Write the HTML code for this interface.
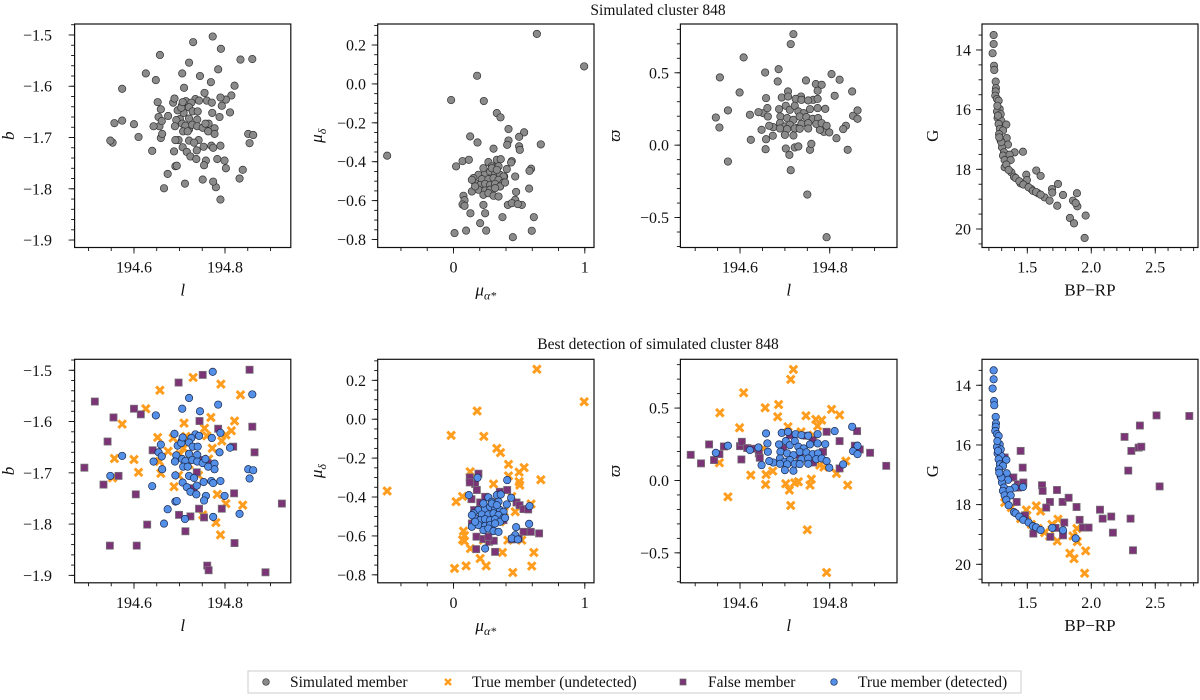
<!DOCTYPE html>
<html><head><meta charset="utf-8"><style>
html,body{margin:0;padding:0;background:#fff}
svg text{font-family:"Liberation Serif",serif;fill:#111}
</style></head><body>
<svg id="fig" width="1200" height="695" viewBox="0 0 1200 695" xmlns="http://www.w3.org/2000/svg">
<text x="658" y="15" font-size="15.5" text-anchor="middle">Simulated cluster 848</text>
<text x="658" y="349" font-size="15.5" text-anchor="middle">Best detection of simulated cluster 848</text>
<g>
<rect x="248" y="671" width="773" height="22" fill="#fff" stroke="#ccc" stroke-width="1"/>
<g><circle cx="266" cy="682" r="3.3" fill="#8a8a8a" stroke="#333" stroke-width="0.7"/><text x="290" y="687" font-size="15.5">Simulated member</text></g>
<g><path d="M445 679l6 6M451 679l-6 6" stroke="#ff9d1f" stroke-width="2.4"/><text x="472" y="687" font-size="15.5">True member (undetected)</text></g>
<g><rect x="680" y="679" width="6" height="6" fill="#7b3577" stroke="#666" stroke-width="0.7"/><text x="708" y="687" font-size="15.5">False member</text></g>
<g><circle cx="834" cy="682" r="3.3" fill="#5590e8" stroke="#1a2a50" stroke-width="0.7"/><text x="858" y="687" font-size="15.5">True member (detected)</text></g>
</g>
</svg>
<script>
// ---- Panel A: l vs b ----
const lUndet=[194.730,194.791,194.657,194.834,194.626,194.574,194.769,194.710,194.821,194.755,194.814,194.802,194.652,194.686,194.714,194.793,194.772,194.675,194.557,194.600,194.610,194.659,194.656,194.701,194.709,194.553,194.742,194.688,194.783,194.802,194.839,194.751,194.780,194.790,194.764,194.721,194.698,194.760];
const bUndet=[-1.514,-1.527,-1.539,-1.548,-1.575,-1.605,-1.592,-1.603,-1.599,-1.613,-1.618,-1.626,-1.631,-1.632,-1.629,-1.638,-1.652,-1.658,-1.672,-1.674,-1.699,-1.701,-1.678,-1.664,-1.652,-1.710,-1.705,-1.727,-1.742,-1.760,-1.763,-1.782,-1.797,-1.821,-1.673,-1.684,-1.705,-1.628];
const lFalse=[194.854,194.751,194.698,194.514,194.600,194.615,194.555,194.860,194.744,194.785,194.542,194.818,194.865,194.641,194.491,194.738,194.566,194.533,194.731,194.604,194.820,194.925,194.743,194.793,194.699,194.724,194.754,194.629,194.713,194.547,194.606,194.821,194.761,194.764,194.889,194.762,194.753];
const bFalse=[-1.499,-1.509,-1.524,-1.561,-1.575,-1.586,-1.592,-1.610,-1.599,-1.614,-1.639,-1.649,-1.660,-1.656,-1.690,-1.699,-1.706,-1.723,-1.730,-1.742,-1.740,-1.760,-1.770,-1.770,-1.782,-1.785,-1.787,-1.801,-1.814,-1.842,-1.842,-1.837,-1.881,-1.890,-1.894,-1.681,-1.675];
const lDet=[194.773,194.860,194.721,194.785,194.706,194.745,194.648,194.689,194.735,194.705,194.726,194.743,194.771,194.790,194.659,194.721,194.729,194.740,194.788,194.811,194.654,194.661,194.643,194.693,194.690,194.706,194.721,194.739,194.713,194.728,194.739,194.751,194.757,194.777,194.777,194.662,194.708,194.718,194.763,194.548,194.574,194.691,194.721,194.732,194.753,194.770,194.774,194.790,194.851,194.862,194.854,194.640,194.707,194.716,194.738,194.724,194.737,194.758,194.754,194.799,194.691,194.694,194.674,194.712,194.774,194.832,194.666,194.696,194.704,194.707];
const bDet=[-1.503,-1.547,-1.554,-1.567,-1.575,-1.580,-1.588,-1.624,-1.625,-1.638,-1.632,-1.628,-1.632,-1.622,-1.645,-1.641,-1.649,-1.649,-1.660,-1.651,-1.660,-1.668,-1.678,-1.666,-1.678,-1.673,-1.663,-1.665,-1.677,-1.675,-1.678,-1.681,-1.673,-1.682,-1.693,-1.693,-1.688,-1.688,-1.688,-1.706,-1.667,-1.705,-1.706,-1.710,-1.718,-1.716,-1.720,-1.716,-1.693,-1.695,-1.711,-1.726,-1.719,-1.728,-1.725,-1.737,-1.742,-1.745,-1.754,-1.745,-1.756,-1.755,-1.771,-1.790,-1.786,-1.780,-1.799,-1.647,-1.642,-1.631];
// ---- Panel B: proper motions ----
const pmraUndet=[0.635,0.995,0.180,-0.018,0.231,0.330,0.358,0.419,0.419,0.538,0.500,0.500,0.505,0.665,0.305,-0.505,0.127,0.020,0.069,0.307,0.444,0.591,0.386,0.470,0.076,0.084,0.069,0.084,0.129,0.008,0.096,0.203,0.249,0.373,0.452,0.596,0.612,0.520,0.414,0.228,0.355];
const pmdecUndet=[0.257,0.090,0.042,-0.083,-0.088,-0.150,-0.172,-0.232,-0.291,-0.249,-0.272,-0.321,-0.339,-0.311,-0.333,-0.369,-0.270,-0.424,-0.397,-0.424,-0.397,-0.436,-0.476,-0.476,-0.575,-0.598,-0.620,-0.627,-0.665,-0.767,-0.754,-0.716,-0.754,-0.685,-0.788,-0.755,-0.685,-0.622,-0.622,-0.622,-0.527];
const pmraFalse=[0.190,0.124,0.165,0.124,0.178,0.137,0.203,0.353,0.409,0.480,0.503,0.533,0.569,0.157,0.173,0.140,0.533,0.589,0.652,0.444,0.497,0.175,0.228,0.272,0.307,0.173,0.317,0.266,0.381,0.241];
const pmdecFalse=[-0.280,-0.299,-0.333,-0.325,-0.364,-0.411,-0.428,-0.373,-0.364,-0.428,-0.442,-0.462,-0.464,-0.467,-0.515,-0.536,-0.579,-0.579,-0.587,-0.618,-0.613,-0.604,-0.616,-0.630,-0.625,-0.668,-0.682,-0.604,-0.519,-0.399];
const pmraDet=[0.183,0.409,0.117,0.266,0.330,0.360,0.292,0.343,0.406,0.439,0.579,0.190,0.241,0.279,0.317,0.355,0.381,0.152,0.216,0.266,0.305,0.343,0.381,0.165,0.203,0.241,0.279,0.317,0.355,0.393,0.140,0.190,0.241,0.279,0.317,0.140,0.228,0.266,0.305,0.343,0.477,0.576,0.470,0.444,0.490,0.241,0.165,0.292,0.228,0.330];
const pmdecDet=[-0.301,-0.313,-0.390,-0.402,-0.390,-0.387,-0.424,-0.424,-0.438,-0.404,-0.447,-0.467,-0.462,-0.450,-0.462,-0.467,-0.476,-0.484,-0.490,-0.490,-0.484,-0.493,-0.507,-0.510,-0.519,-0.514,-0.519,-0.514,-0.527,-0.507,-0.553,-0.544,-0.548,-0.544,-0.536,-0.493,-0.570,-0.562,-0.575,-0.579,-0.555,-0.538,-0.596,-0.613,-0.618,-0.665,-0.527,-0.433,-0.433,-0.442];
// ---- Panel C: l vs parallax ----
const l2Undet=[194.719,194.713,194.608,194.555,194.656,194.686,194.684,194.747,194.769,194.782,194.804,194.822,194.773,194.599,194.707,194.736,194.554,194.624,194.658,194.673,194.657,194.702,194.710,194.722,194.730,194.756,194.759,194.787,194.815,194.836,194.840,194.573,194.713,194.750,194.793,194.652,194.763,194.778];
const plxUndet=[0.767,0.698,0.606,0.468,0.502,0.525,0.440,0.447,0.422,0.417,0.491,0.452,0.376,0.364,0.371,0.336,0.122,0.037,0.041,0.065,-0.028,-0.023,-0.067,-0.016,-0.009,-0.032,0.009,0.092,0.048,0.134,-0.032,-0.113,-0.173,-0.341,-0.636,0.221,0.313,0.106];
const l2False=[194.490,194.513,194.531,194.542,194.554,194.564,194.600,194.604,194.603,194.616,194.628,194.642,194.644,194.711,194.748,194.762,194.793,194.822,194.861,194.856,194.867,194.890,194.926,194.785,194.822,194.763,194.733,194.696];
const plxFalse=[0.177,0.118,0.249,0.141,0.182,0.235,0.237,0.267,0.145,0.224,0.219,0.187,0.157,0.313,0.309,0.279,0.336,0.272,0.341,0.240,0.214,0.191,0.101,0.198,0.083,0.124,0.175,0.221];
const l2Det=[194.658,194.693,194.707,194.724,194.737,194.752,194.773,194.850,194.811,194.573,194.546,194.641,194.661,194.662,194.648,194.674,194.687,194.702,194.711,194.722,194.730,194.742,194.756,194.773,194.790,194.690,194.705,194.719,194.733,194.748,194.762,194.774,194.689,194.700,194.711,194.726,194.737,194.752,194.770,194.782,194.793,194.689,194.705,194.722,194.733,194.752,194.700,194.719,194.799,194.830,194.852,194.862,194.862,194.622,194.665];
const plxDet=[0.325,0.329,0.336,0.320,0.313,0.309,0.320,0.371,0.341,0.240,0.191,0.228,0.256,0.198,0.106,0.124,0.249,0.272,0.244,0.272,0.233,0.221,0.249,0.256,0.251,0.198,0.187,0.175,0.198,0.194,0.182,0.187,0.152,0.129,0.141,0.118,0.147,0.152,0.147,0.152,0.134,0.115,0.111,0.115,0.113,0.115,0.071,0.067,0.088,0.111,0.203,0.240,0.182,0.210,0.134];
// ---- Panel D: CMD ----
const colUndet=[1.492,1.570,1.604,1.497,1.693,1.740,1.734,1.888,1.857,1.891,1.833,1.865,1.956,1.948,1.635,1.674,1.323,1.375,1.448,1.531,1.583];
const gUndet=[18.18,18.04,18.22,18.36,18.66,18.49,19.22,18.80,19.05,19.24,19.63,19.81,19.55,20.30,18.94,19.05,17.93,18.10,18.47,18.66,18.80];
const colFalse=[1.448,1.464,1.391,1.427,1.469,1.482,1.417,1.615,1.620,1.732,1.677,1.648,1.776,1.823,1.885,1.789,1.909,1.721,1.779,1.547,1.680,1.935,1.979,2.068,2.089,2.156,2.169,2.307,2.326,2.260,2.313,2.370,2.391,2.380,2.510,2.766,2.289,2.534,1.323,1.427];
const gFalse=[16.20,16.76,17.09,17.32,17.26,18.36,17.91,17.35,17.54,17.51,17.91,18.10,17.91,17.77,18.08,18.60,18.51,18.78,19.03,18.97,19.08,18.77,18.77,18.17,18.47,18.40,18.94,18.47,19.53,15.73,16.20,16.09,16.06,15.35,15.01,15.03,16.86,17.39,16.42,17.43];
const colDet=[1.237,1.237,1.229,1.240,1.242,1.253,1.255,1.253,1.250,1.263,1.276,1.284,1.263,1.292,1.268,1.297,1.336,1.276,1.286,1.310,1.279,1.339,1.292,1.349,1.302,1.318,1.401,1.466,1.310,1.362,1.323,1.370,1.336,1.354,1.396,1.409,1.438,1.469,1.510,1.544,1.568,1.604,1.695,1.779,1.878,1.271,1.266,1.297,1.281];
const gDet=[13.50,13.80,14.11,14.53,14.67,15.06,15.28,15.39,15.53,15.64,15.70,15.98,16.06,16.15,16.28,16.37,16.50,16.48,16.65,16.70,16.82,16.95,17.04,17.17,17.26,17.43,17.43,17.41,17.54,17.51,17.69,17.69,17.84,18.02,18.25,18.29,18.40,18.51,18.60,18.72,18.76,18.85,18.78,18.86,19.13,16.20,15.87,17.09,16.93];
// tick labels
const ticksL=[194.6,194.8], ticksB=[-1.5,-1.6,-1.7,-1.8,-1.9];
const ticksPmra=[0,1], ticksPmdec=[0.2,0.0,-0.2,-0.4,-0.6,-0.8];
const ticksPlx=[0.5,0.0,-0.5], ticksCol=[1.5,2.0,2.5], ticksG=[14,16,18,20];

const NS='http://www.w3.org/2000/svg';
const svg=document.getElementById('fig');
function mk(tag,attrs,parent){const e=document.createElementNS(NS,tag);for(const k in attrs)e.setAttribute(k,attrs[k]);(parent||svg).appendChild(e);return e;}
function fmt(v,d){let s=v.toFixed(d);if(v<0)s='\u2212'+s.slice(1);return s;}

function panel(cfg,top,name){
  const y0=cfg.y0+top,h=223.5,x0=cfg.x0,w=cfg.x1-cfg.x0;
  const g=mk('g',{});
  
  
  const sx=v=>x0+(v-cfg.xd[0])/(cfg.xd[1]-cfg.xd[0])*w;
  const sy=v=>cfg.yinv? y0+(v-cfg.yd[0])/(cfg.yd[1]-cfg.yd[0])*h : y0+h-(v-cfg.yd[0])/(cfg.yd[1]-cfg.yd[0])*h;
  const ax=mk('g',{stroke:'#111','stroke-width':0.9},g);
  
  
  for(let v=Math.ceil(cfg.xd[0]/cfg.xm-1e-9)*cfg.xm;v<=cfg.xd[1];v+=cfg.xm){const X=sx(v);mk('line',{x1:X,x2:X,y1:y0+h,y2:y0+h+3.5},ax);}
  const ylo=Math.min(cfg.yd[0],cfg.yd[1]),yhi=Math.max(cfg.yd[0],cfg.yd[1]);
  for(let v=Math.ceil(ylo/cfg.ym-1e-9)*cfg.ym;v<=yhi;v+=cfg.ym){const Y=sy(v);mk('line',{x1:x0-3.5,x2:x0,y1:Y,y2:Y},ax);}
  cfg.xt.forEach(v=>{const X=sx(v);mk('line',{x1:X,x2:X,y1:y0+h,y2:y0+h+6},ax);
    const t=mk('text',{x:X,y:y0+h+25,'font-size':16,'text-anchor':'middle'},g);t.textContent=fmt(v,cfg.xdp);
    });
  cfg.yt.forEach(v=>{const Y=sy(v);mk('line',{x1:x0-6,x2:x0,y1:Y,y2:Y},ax);
    const t=mk('text',{x:cfg.ylx,y:Y+5.5,'font-size':16,'text-anchor':'end'},g);t.textContent=fmt(v,cfg.ydp);
    });
  const pts=mk('g',{},g);
  
  
  cfg.series.forEach(s=>{
    s.x.forEach((xv,i)=>{const X=sx(xv),Y=sy(s.y[i]);let e;
      if(s.m==='gray'){e=mk('circle',{cx:X,cy:Y,r:3.7,fill:'#8a8a8a',stroke:'#333','stroke-width':0.7},pts);}
      else if(s.m==='blue'){e=mk('circle',{cx:X,cy:Y,r:3.7,fill:'#5590e8',stroke:'#1a2a50','stroke-width':0.7},pts);}
      else if(s.m==='orange'){e=mk('path',{d:`M${X-3.8} ${Y-3.8}L${X+3.8} ${Y+3.8}M${X+3.8} ${Y-3.8}L${X-3.8} ${Y+3.8}`,stroke:'#ff9d1f','stroke-width':3},pts);}
      else {e=mk('rect',{x:X-3.6,y:Y-3.6,width:7.2,height:7.2,fill:'#7b3577',stroke:'#777','stroke-width':0.7},pts);}
      
      
    });
  });
  const fr=mk('rect',{x:x0,y:y0,width:w,height:h,fill:'none',stroke:'#111','stroke-width':1.2},g);
  
  
  const xl=mk('text',{x:x0+w/2,y:y0+h+48,'font-size':17,'text-anchor':'middle','font-style':cfg.xit?'italic':'normal'},g);
  xl.innerHTML=cfg.xlab;
  
  const yl=mk('text',{x:0,y:0,'font-size':17,'text-anchor':'middle','font-style':cfg.yit?'italic':'normal',transform:`translate(${cfg.ylabx},${y0+h/2}) rotate(-90)`},g);
  yl.innerHTML=cfg.ylab;
  
}
const cat=(a,b)=>a.concat(b);
const P=[
 {x0:74.6,x1:290.8,y0:24,xd:[194.4695,194.9446],yd:[-1.9145,-1.4786],xt:ticksL,yt:ticksB,xm:0.05,ym:0.02,xdp:1,ydp:1,ylx:52,ylabx:14,xlab:'l',ylab:'b',xit:1,yit:1,
  sets:[[lUndet,bUndet],[lFalse,bFalse],[lDet,bDet]]},
 {x0:377.7,x1:594,y0:24,xd:[-0.577,1.07],yd:[-0.841,0.308],xt:ticksPmra,yt:ticksPmdec,xm:0.2,ym:0.05,xdp:0,ydp:1,ylx:366,ylabx:322,xlab:'μ<tspan font-size="12" dy="4">α*</tspan>',ylab:'μ<tspan font-size="12" dy="4">δ</tspan>',xit:1,yit:1,
  sets:[[pmraUndet,pmdecUndet],[pmraFalse,pmdecFalse],[pmraDet,pmdecDet]]},
 {x0:680.4,x1:897,y0:24,xd:[194.467,194.950],yd:[-0.707,0.837],xt:ticksL,yt:ticksPlx,xm:0.05,ym:0.1,xdp:1,ydp:1,ylx:669,ylabx:620,xlab:'l',ylab:'ϖ',xit:1,yit:1,
  sets:[[l2Undet,plxUndet],[l2False,plxFalse],[l2Det,plxDet]]},
 {x0:982,x1:1198,y0:24,xd:[1.146,2.834],yd:[13.13,20.62],yinv:1,xt:ticksCol,yt:ticksG,xm:0.1,ym:0.5,xdp:1,ydp:0,ylx:971,ylabx:938,xlab:'BP−RP',ylab:'G',xit:0,yit:0,
  sets:[[colUndet,gUndet],[colFalse,gFalse],[colDet,gDet]]}
];
P.forEach((c,i)=>{
  const s=c.sets;
  c.series=[{x:cat(s[0][0],s[2][0]),y:cat(s[0][1],s[2][1]),m:'gray',n:'simulated-member-point'}];
  panel(c,0,'top-panel-'+(i+1));
  c.series=[{x:s[0][0],y:s[0][1],m:'orange',n:'undetected-member-point'},{x:s[1][0],y:s[1][1],m:'purple',n:'false-member-point'},{x:s[2][0],y:s[2][1],m:'blue',n:'detected-member-point'}];
  panel(c,335.3,'bottom-panel-'+(i+1));
});
</script>
</body></html>
